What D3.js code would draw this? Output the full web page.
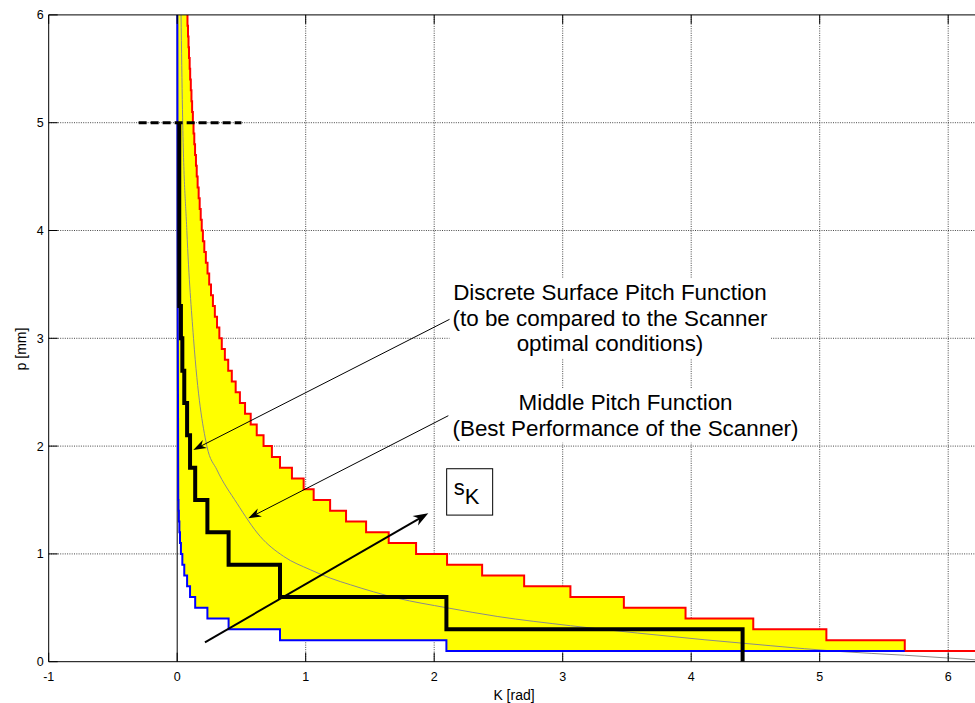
<!DOCTYPE html>
<html><head><meta charset="utf-8">
<script src="https://cdn.jsdelivr.net/npm/d3@7"></script>
<style>body{margin:0;background:#fff}svg{display:block}text{font-family:"Liberation Sans",Arial,sans-serif}</style>
</head><body><svg id="c" width="975" height="703"></svg>
<script>
// ---------- data ----------
const xTicks = [-1, 0, 1, 2, 3, 4, 5, 6];
const yTicks = [0, 1, 2, 3, 4, 5, 6];
// upper (red) step function: levels and the K where each level ends
const redLevels = [6.0,5.9,5.8,5.7,5.6,5.5,5.4,5.3,5.2,5.1,5.0,4.9,4.8,4.7,4.6,4.5,4.4,4.3,4.2,4.1,4.0,3.9,3.8,3.7,3.6,3.5,3.4,3.3,3.2,3.1,3.0,2.9,2.8,2.7,2.6,2.5,2.4,2.3,2.2,2.1,2.0,1.9,1.8,1.7,1.6,1.5,1.4,1.3,1.2,1.1,1.0,0.9,0.8,0.7,0.6,0.5,0.4,0.3,0.2,0.1];
const redEndK = [0.080,0.084,0.088,0.092,0.097,0.101,0.106,0.111,0.116,0.122,0.127,0.133,0.139,0.146,0.152,0.159,0.167,0.175,0.183,0.191,0.200,0.211,0.223,0.236,0.249,0.263,0.278,0.293,0.310,0.328,0.347,0.371,0.397,0.425,0.455,0.488,0.528,0.572,0.619,0.672,0.737,0.800,0.893,0.984,1.062,1.190,1.314,1.470,1.646,1.859,2.100,2.373,2.700,3.060,3.476,3.956,4.483,5.052,5.662,6.400];
// lower (blue) step function: levels and the K where each level starts
const blueLevels = [0.1,0.2,0.3,0.4,0.5,0.6,0.7,0.8,0.9,1.0,1.1,1.2,1.3,1.4,1.5];
const blueStartK = [2.095,0.80,0.40,0.235,0.14,0.10,0.077,0.055,0.040,0.029,0.022,0.017,0.013,0.010,0.008];
const blueEndK = 5.662;
const blueTopK = [0.008, 0.006, 0.003, 0.001];
const blueTopP = [1.6, 2.5, 4.0, 6.3];
// discrete surface pitch function (black)
const blackK = [0.016,0.029,0.040,0.055,0.077,0.10,0.14,0.235,0.40,0.80,2.095,4.40];
const blackP = [5.0,3.3,3.0,2.7,2.4,2.1,1.8,1.5,1.2,0.9,0.6,0.3,0];
// middle pitch function (grey)
const midK = [0.030,0.041,0.075,0.127,0.231,0.309,0.465,0.646,0.828,1.036,1.19,1.347,1.71,2.10,2.49,3.06,3.58,4.10,4.62,5.14,5.66,6.21];
const midP = [6.0,5.12,4.0,3.0,2.0,1.78,1.47,1.162,0.977,0.853,0.776,0.714,0.59,0.50,0.42,0.334,0.266,0.204,0.148,0.096,0.060,0.018];
// dashed reference line
const dashK = [-0.3, 0.5], dashP = 5.0;
// annotations
const label1 = ["Discrete Surface Pitch Function", "(to be compared to the Scanner", "optimal conditions)"];
const label2 = ["Middle Pitch Function", "(Best Performance of the Scanner)"];
const xLabel = "K [rad]", yLabel = "p [mm]";

// ---------- scales ----------
const svg = d3.select("#c");
const x = d3.scaleLinear().domain([-1, 2*Math.PI]).range([48.7, 48.7 + 128.5*(1+2*Math.PI)]);
const y = d3.scaleLinear().domain([0, 6]).range([661.7, 14.9]);
const X0 = x(-1), X1 = x(2*Math.PI), Y0 = y(0), Y1 = y(6);

svg.append("defs").append("clipPath").attr("id","pc").append("rect")
  .attr("x", X0).attr("y", Y1).attr("width", X1-X0).attr("height", Y0-Y1);

// grid
const grid = svg.append("g").attr("stroke","#000").attr("stroke-width",0.8).attr("stroke-dasharray","1,1.3").attr("opacity",0.9);
xTicks.filter(t => t !== -1 && t !== 0).forEach(t => grid.append("line").attr("x1",x(t)).attr("x2",x(t)).attr("y1",Y0).attr("y2",Y1));
yTicks.filter(t => t !== 0 && t !== 6).forEach(t => grid.append("line").attr("x1",X0).attr("x2",X1).attr("y1",y(t)).attr("y2",y(t)));

const plot = svg.append("g").attr("clip-path","url(#pc)");

// red path points
const redPts = [[redEndK[0], 6.4]];
redLevels.forEach((p,i) => {
  const k0 = i === 0 ? redEndK[0] : redEndK[i-1];
  redPts.push([k0, p]); redPts.push([redEndK[i], p]);
});
// blue path points (from right to top)
const bluePts = [[blueEndK, blueLevels[0]]];
blueLevels.forEach((p,i) => { bluePts.push([blueStartK[i], p]); if (i < blueLevels.length-1) bluePts.push([blueStartK[i], blueLevels[i+1]]); });
blueTopK.forEach((k,i) => bluePts.push([k, blueTopP[i]]));

const line = d3.line().x(d => x(d[0])).y(d => y(d[1]));

// yellow band
const redUntil = redPts.filter(d => d[0] <= blueEndK + 1e-9);
redUntil.push([blueEndK, 0.2]);
plot.append("path").attr("d", line(redUntil.concat(bluePts)) + "Z").attr("fill","#ffff00").attr("stroke","none");

// K = 0 line
plot.append("line").attr("x1",x(0)).attr("x2",x(0)).attr("y1",Y0).attr("y2",Y1).attr("stroke","#000").attr("stroke-width",1);

// middle function
plot.append("path").datum(midK.map((k,i)=>[k, midP[i]]))
  .attr("d", d3.line().x(d=>x(d[0])).y(d=>y(d[1])).curve(d3.curveMonotoneX))
  .attr("fill","none").attr("stroke","#8a8a8a").attr("stroke-width",1);

plot.append("path").attr("d", line(redPts)).attr("fill","none").attr("stroke","#ff0000").attr("stroke-width",2);
plot.append("path").attr("d", line(bluePts)).attr("fill","none").attr("stroke","#0000ff").attr("stroke-width",2);

// black step function
const blackPts = [[blackK[0], blackP[0]]];
blackK.forEach((k,i) => { blackPts.push([k, blackP[i+1]]); if (i < blackK.length-1) blackPts.push([blackK[i+1], blackP[i+1]]); });
plot.append("path").attr("d", line(blackPts)).attr("fill","none").attr("stroke","#000").attr("stroke-width",4).attr("stroke-linejoin","miter");

// dashed line at p = 5
plot.append("line").attr("x1",x(dashK[0])).attr("x2",x(dashK[1])).attr("y1",y(dashP)).attr("y2",y(dashP))
  .attr("stroke","#000").attr("stroke-width",3).attr("stroke-dasharray","8,4");

// axes box and ticks
const ax = svg.append("g").attr("stroke","#000").attr("stroke-width",1).attr("fill","none");
ax.append("line").attr("x1",X0).attr("x2",X1).attr("y1",Y0).attr("y2",Y0);
ax.append("line").attr("x1",X0).attr("x2",X1).attr("y1",Y1).attr("y2",Y1);
ax.append("line").attr("x1",X0).attr("x2",X0).attr("y1",Y0).attr("y2",Y1);
yTicks.forEach(t => ax.append("line").attr("x1",X0).attr("x2",X0+9).attr("y1",y(t)).attr("y2",y(t)));
xTicks.forEach(t => { ax.append("line").attr("x1",x(t)).attr("x2",x(t)).attr("y1",Y0).attr("y2",Y0-9);
  ax.append("line").attr("x1",x(t)).attr("x2",x(t)).attr("y1",Y1).attr("y2",Y1+9); });

const tl = svg.append("g").attr("font-size",12.5).attr("fill","#000");
yTicks.forEach(t => tl.append("text").attr("x",X0-5).attr("y",y(t)).attr("dy","0.36em").attr("text-anchor","end").text(t));
xTicks.forEach(t => tl.append("text").attr("x",x(t)).attr("y",Y0+19).attr("text-anchor","middle").text(t));
tl.append("text").attr("x",514).attr("y",700).attr("font-size",14).attr("text-anchor","middle").text(xLabel);
tl.append("text").attr("transform","translate(26,349) rotate(-90)").attr("font-size",14).attr("text-anchor","middle").text(yLabel);

// arrows
function arrow(k1,p1,k2,p2,w,hl,hw){
  const x1=x(k1),y1=y(p1),x2=x(k2),y2=y(p2);
  const a=Math.atan2(y2-y1,x2-x1), c=Math.cos(a), s=Math.sin(a);
  svg.append("line").attr("x1",x1).attr("y1",y1).attr("x2",x2-c*hl*0.6).attr("y2",y2-s*hl*0.6).attr("stroke","#000").attr("stroke-width",w);
  const bx=x2-c*hl, by=y2-s*hl, nx=x2-c*hl*0.7, ny=y2-s*hl*0.7;
  svg.append("path").attr("d",`M${x2},${y2}L${bx - s*hw/2},${by + c*hw/2}L${nx},${ny}L${bx + s*hw/2},${by - c*hw/2}Z`).attr("fill","#000");
}
arrow(2.136,3.186,0.125,1.964,1,13,9);
arrow(2.110,2.282,0.553,1.330,1,13,9);
arrow(0.216,0.18,1.954,1.377,2,15,11);

// text labels with white background
function label(lines, kc, p0, dp){
  const g = svg.append("g");
  const bg = g.append("rect").attr("fill","#fff");
  const t = g.append("g").attr("font-size",22.4).attr("fill","#000");
  lines.forEach((s,i) => t.append("text").attr("x",x(kc)).attr("y",y(p0) + i*dp).attr("text-anchor","middle").text(s));
  const b = t.node().getBBox();
  bg.attr("x",b.x-3).attr("y",b.y-2).attr("width",b.width+6).attr("height",b.height+4);
}
label(label1, 3.368, 3.355, 25.7);
label(label2, 3.489, 2.335, 25.7);

// s_K box
const bx0 = x(2.097), by0 = y(1.79);
svg.append("rect").attr("x",bx0).attr("y",by0).attr("width",x(2.455)-bx0).attr("height",y(1.36)-by0)
  .attr("fill","#fff").attr("stroke","#000").attr("stroke-width",1);
const sk = svg.append("text").attr("x",bx0+7).attr("y",by0+26).attr("font-size",22).attr("fill","#000");
sk.append("tspan").text("s");
sk.append("tspan").attr("dy",9).text("K");
</script></body></html>
